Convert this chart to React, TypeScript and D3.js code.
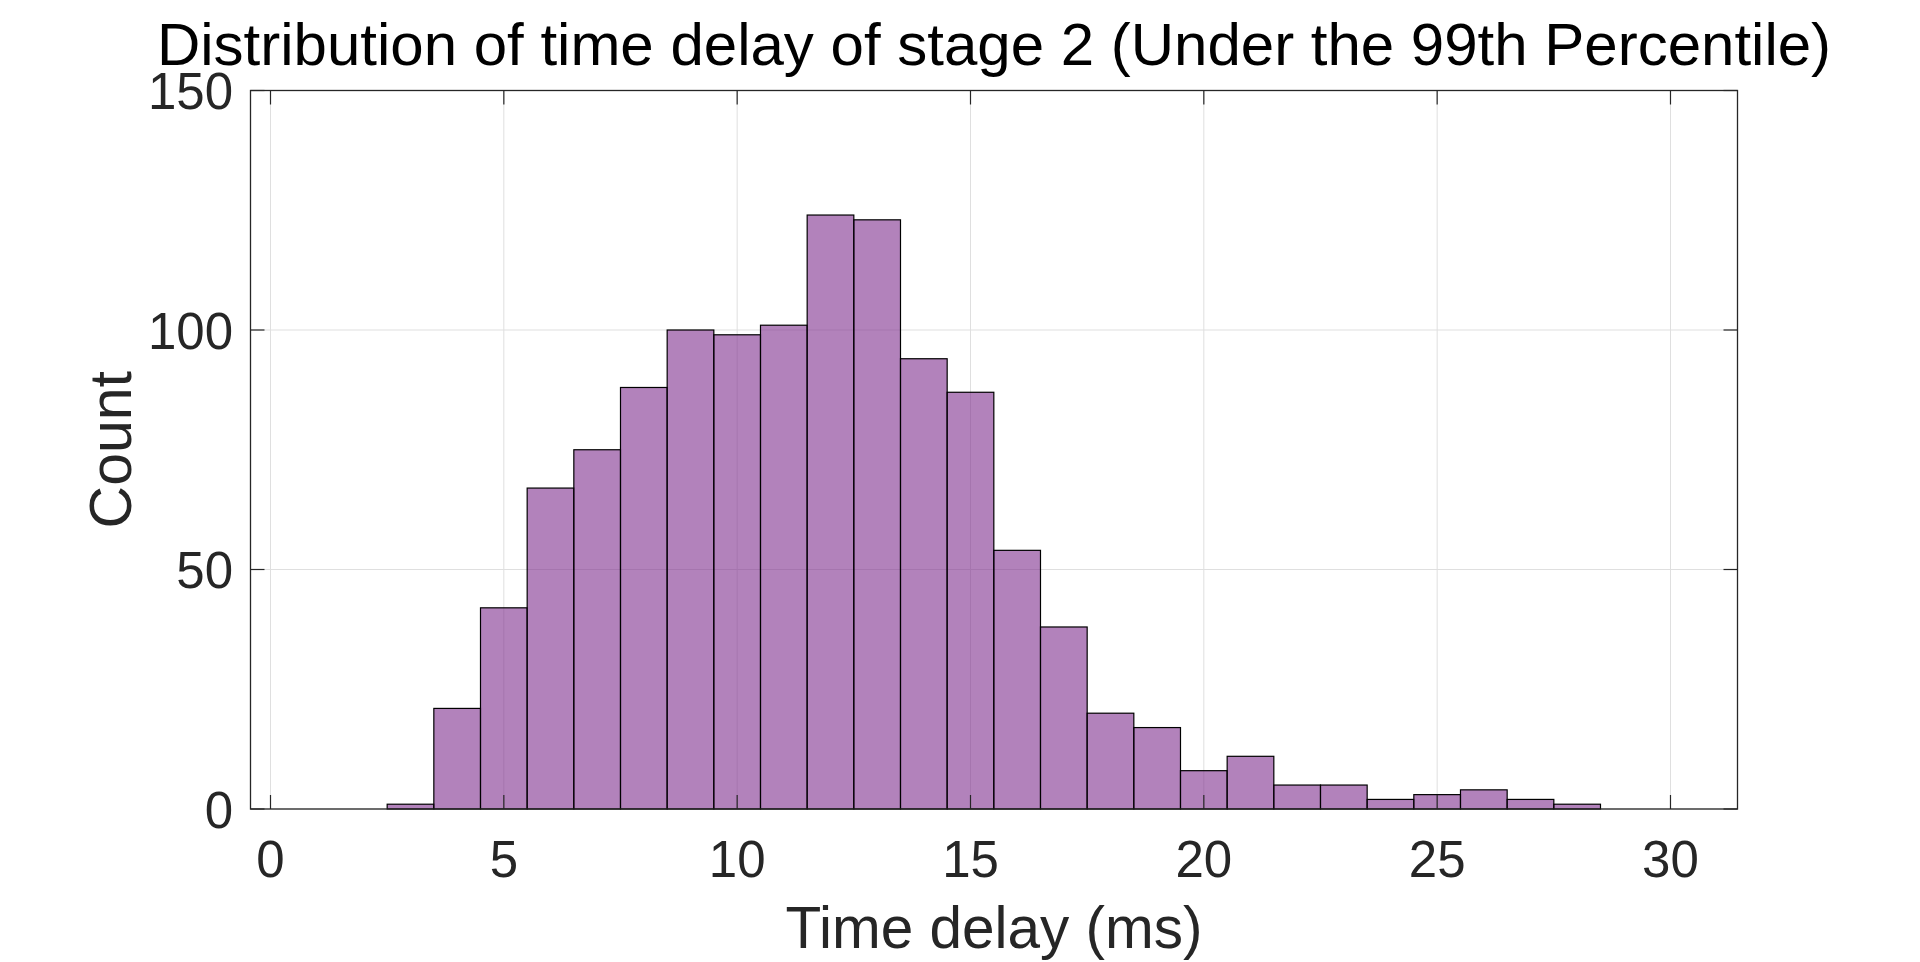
import React from "react";
import * as d3 from "d3";

const binCenters = [3, 4, 5, 6, 7, 8, 9, 10, 11, 12, 13, 14, 15, 16, 17, 18, 19, 20, 21, 22, 23, 24, 25, 26, 27, 28];
const counts = [1, 21, 42, 67, 75, 88, 100, 99, 101, 124, 123, 94, 87, 54, 38, 20, 17, 8, 11, 5, 5, 2, 3, 4, 2, 1];
const binWidth = 1;
const xTicks = [0, 5, 10, 15, 20, 25, 30];
const yTicks = [0, 50, 100, 150];
const titleText = "Distribution of time delay of stage 2 (Under the 99th Percentile)";
const xLabelText = "Time delay (ms)";
const yLabelText = "Count";

const W = 1920;
const H = 962;
const L = 250.5, R = 1737.5, T = 90.5, B = 809;
const FONT = "'Liberation Sans', Arial, Helvetica, sans-serif";

export default function App() {
  const x = d3.scaleLinear().domain([-0.4286, 31.436]).range([L, R]);
  const y = d3.scaleLinear().domain([0, 150]).range([B, T]);
  const tickLen = 14;
  const axisColor = "#262626";
  const gridColor = "#dfdfdf";

  return (
    <svg width={W} height={H} style={{ position: "absolute", left: 0, top: 0, display: "block", background: "#fff" }}>
      <rect x={0} y={0} width={W} height={H} fill="#fff" />
      {xTicks.map((t) => (
        <line key={"gx" + t} x1={x(t)} x2={x(t)} y1={T} y2={B} stroke={gridColor} strokeWidth={1} />
      ))}
      {yTicks.map((t) => (
        <line key={"gy" + t} x1={L} x2={R} y1={y(t)} y2={y(t)} stroke={gridColor} strokeWidth={1} />
      ))}
      {binCenters.map((c, i) => {
        const x0 = x(c - binWidth / 2);
        const x1 = x(c + binWidth / 2);
        const yt = y(counts[i]);
        return (
          <rect
            key={"b" + i}
            x={x0}
            y={yt}
            width={x1 - x0}
            height={B - yt}
            fill="#7E2F8E"
            fillOpacity={0.6}
            stroke="#000"
            strokeWidth={1.2}
          />
        );
      })}
      {xTicks.map((t) => (
        <g key={"tx" + t}>
          <line x1={x(t)} x2={x(t)} y1={B} y2={B - tickLen} stroke={axisColor} strokeWidth={1.2} />
          <line x1={x(t)} x2={x(t)} y1={T} y2={T + tickLen} stroke={axisColor} strokeWidth={1.2} />
          <text x={x(t)} y={877} textAnchor="middle" fontFamily={FONT} fontSize={51} fill={axisColor}>
            {t}
          </text>
        </g>
      ))}
      {yTicks.map((t) => (
        <g key={"ty" + t}>
          <line x1={L} x2={L + tickLen} y1={y(t)} y2={y(t)} stroke={axisColor} strokeWidth={1.2} />
          <line x1={R} x2={R - tickLen} y1={y(t)} y2={y(t)} stroke={axisColor} strokeWidth={1.2} />
          <text x={233} y={y(t) + 18.5} textAnchor="end" fontFamily={FONT} fontSize={51} fill={axisColor}>
            {t}
          </text>
        </g>
      ))}
      <rect x={L} y={T} width={R - L} height={B - T} fill="none" stroke={axisColor} strokeWidth={1.3} />
      <text x={(L + R) / 2} y={65} textAnchor="middle" fontFamily={FONT} fontSize={60} fill="#000">
        {titleText}
      </text>
      <text x={(L + R) / 2} y={948.3} textAnchor="middle" fontFamily={FONT} fontSize={58.5} fill={axisColor}>
        {xLabelText}
      </text>
      <text
        transform={`translate(130.7, ${(T + B) / 2}) rotate(-90)`}
        textAnchor="middle"
        fontFamily={FONT}
        fontSize={59}
        fill={axisColor}
      >
        {yLabelText}
      </text>
    </svg>
  );
}
